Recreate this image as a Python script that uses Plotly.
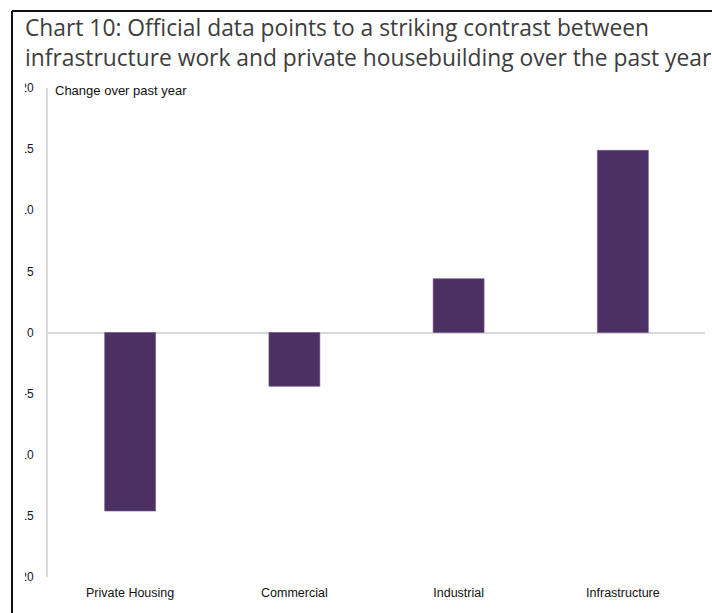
import plotly.graph_objects as go

categories = ["Private Housing", "Commercial", "Industrial", "Infrastructure"]
values = [-14.6, -4.4, 4.4, 14.9]
tick_vals = [20, 15, 10, 5, 0, -5, -10, -15, -20]
tick_text = ["20", "15", "10", "5", "0", "-5", "-10", "-15", "-20"]

W, H = 712, 613
ML, MR, MT, MB = 48, 7, 88, 36
PW, PH = W - ML - MR, H - MT - MB

def px_x(px):
    return (px - ML) / PW

def px_y(py):
    return (H - MB - py) / PH

fig = go.Figure()
fig.add_trace(go.Bar(
    x=categories, y=values,
    marker=dict(color="#4c2f63", line=dict(color="#6a5580", width=0.6)),
    hoverinfo="x+y",
))

narrow = "Liberation Sans, Arial, sans-serif"

fig.update_layout(
    width=W, height=H,
    margin=dict(l=ML, r=MR, t=MT, b=MB),
    paper_bgcolor="white", plot_bgcolor="white",
    showlegend=False,
    bargap=0.69,
    title=dict(
        text="Chart 10: Official data points to a striking contrast between<br>infrastructure work and private housebuilding over the past year",
        x=25 / W, xanchor="left", xref="container",
        y=1 - 36 / H, yanchor="top", yref="container",
        font=dict(family="Open Sans, sans-serif", size=22.8, color="#3d3d3d"),
    ),
    xaxis=dict(
        showline=False, showgrid=False, zeroline=False, ticks="",
        tickfont=dict(family=narrow, size=12.5, color="#111111"),
        ticklabelstandoff=6,
    ),
    yaxis=dict(
        range=[-20, 20], tickvals=tick_vals, ticktext=tick_text,
        showgrid=False, zeroline=True, zerolinecolor="#d9d9d9", zerolinewidth=2,
        showline=True, linecolor="#dcdcdc", linewidth=2, ticks="",
        tickfont=dict(family=narrow, size=12, color="#15152a"),
        ticklabelstandoff=10,
    ),
    annotations=[dict(
        text="Change over past year", xref="paper", yref="paper",
        x=px_x(53), y=px_y(91), xanchor="left", yanchor="middle",
        showarrow=False, font=dict(family=narrow, size=13, color="#111111"),
    )],
    shapes=[
        # white mask trimming the tick labels at the frame edge
        dict(type="rect", xref="paper", yref="paper", layer="above",
             x0=px_x(-2), x1=px_x(25), y0=px_y(620), y1=px_y(66),
             fillcolor="white", line=dict(width=0)),
        # black frame lines (top and left)
        dict(type="line", xref="paper", yref="paper", layer="above",
             x0=px_x(12), x1=px_x(714), y0=px_y(11), y1=px_y(11),
             line=dict(color="#111111", width=2)),
        dict(type="line", xref="paper", yref="paper", layer="above",
             x0=px_x(12), x1=px_x(12), y0=px_y(11), y1=px_y(615),
             line=dict(color="#111111", width=2)),
    ],
)

fig.write_html(
    "out.html",
    config={"displayModeBar": False},
    post_script="document.body.style.margin='0';document.body.style.overflow='hidden';",
)
